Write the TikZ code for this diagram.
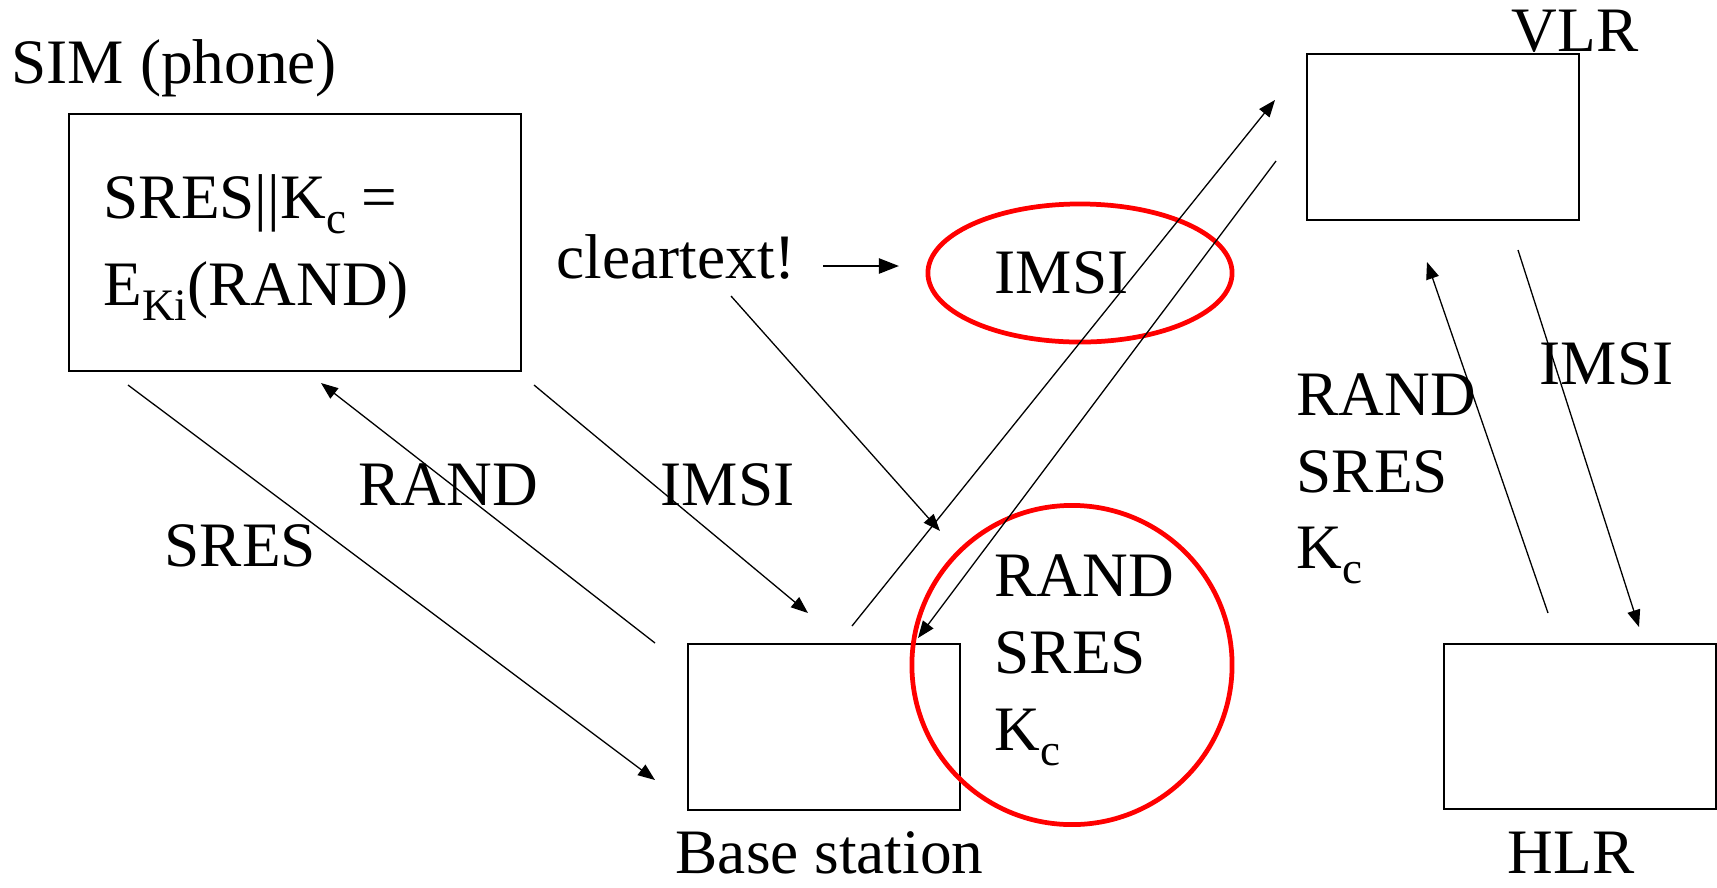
\documentclass[tikz,border=0pt]{standalone}
\usepackage{fontspec}
\setmainfont{Liberation Serif}
\usetikzlibrary{arrows.meta,shapes.geometric}

\newcommand{\subtxt}[1]{\raisebox{-4.3pt}{\fontsize{12.8}{14}\selectfont #1}}

\begin{document}
\begin{tikzpicture}[x=0.01cm,y=-0.01cm,
        box/.style={draw,line width=0.57pt,inner sep=0pt,anchor=north west},
        lbl/.style={inner sep=0pt,anchor=base west,font=\fontsize{18}{21}\selectfont},
        msg/.style={line width=0.37pt,-{Triangle[length=0.17cm,width=0.13cm]}},
        ring/.style={draw=red,line width=1.35pt,ellipse,inner sep=0pt}]
    \useasboundingbox[fill=white] (0,0) rectangle (1717,887);

    % the four boxes
    \node[box,minimum width=4.52cm,minimum height=2.57cm] (sim) at (68,113) {};
    \node[box,minimum width=2.72cm,minimum height=1.66cm] (bs) at (687,643) {};
    \node[box,minimum width=2.72cm,minimum height=1.66cm] (vlr) at (1306,53) {};
    \node[box,minimum width=2.72cm,minimum height=1.65cm] (hlr) at (1443,643) {};

    % red rings
    \node[ring,minimum width=3.04cm,minimum height=1.38cm] (imsiring) at (1080,273) {};
    \node[ring,minimum width=3.2cm,minimum height=3.19cm] (keyring) at (1072,665) {};

    % texts
    \node[lbl] (simlbl) at (11,83) {SIM (phone)};
    \node[lbl] (eqtop) at (103,218) {SRES||K\subtxt{c} =};
    \node[lbl] (eqbot) at (103,305) {E\subtxt{Ki}(RAND)};
    \node[lbl] (clear) at (556,278) {cleartext!};
    \node[lbl] (imsiclear) at (994,293) {IMSI};
    \node[lbl] (vlrlbl) at (1511,51) {VLR};
    \node[lbl] (hlrlbl) at (1507,873) {HLR};
    \node[lbl] (bslbl) at (675,873) {Base station};
    \node[lbl] (sreslbl) at (164,566) {SRES};
    \node[lbl] (randlbl) at (358,505) {RAND};
    \node[lbl] (imsilbl) at (660,505) {IMSI};
    \node[lbl] (imsihlr) at (1539,384) {IMSI};
    \node[lbl] (randbs) at (994,596) {RAND};
    \node[lbl] (sresbs) at (994,673) {SRES};
    \node[lbl] (kcbs) at (994,750) {K\subtxt{c}};
    \node[lbl] (randvlr) at (1296,415) {RAND};
    \node[lbl] (sresvlr) at (1296,492) {SRES};
    \node[lbl] (kcvlr) at (1296,568) {K\subtxt{c}};

    % arrow end points
    \coordinate (sres-a) at (128,385);  \coordinate (sres-b) at (655,780);
    \coordinate (rand-a) at (655,643);  \coordinate (rand-b) at (321,383);
    \coordinate (imsi-a) at (534,385);  \coordinate (imsi-b) at (808,613);
    \coordinate (clr-a) at (731,296);   \coordinate (clr-b) at (940,531);
    \coordinate (up-a) at (852,626);    \coordinate (up-b) at (1275,100);
    \coordinate (down-a) at (1276,161); \coordinate (down-b) at (918,638);
    \coordinate (back-a) at (1548,613); \coordinate (back-b) at (1427,262);
    \coordinate (ask-a) at (1518,250);  \coordinate (ask-b) at (1639,627);
    \coordinate (hint-a) at (823,266);  \coordinate (hint-b) at (899,266);

    \draw[msg] (sres-a) -- (sres-b);
    \draw[msg] (rand-a) -- (rand-b);
    \draw[msg] (imsi-a) -- (imsi-b);
    \draw[msg] (clr-a) -- (clr-b);
    \draw[msg] (up-a) -- (up-b);
    \draw[msg] (down-a) -- (down-b);
    \draw[msg] (back-a) -- (back-b);
    \draw[msg] (ask-a) -- (ask-b);
    \draw[line width=0.65pt,-{Triangle[length=0.2cm,width=0.15cm]}] (hint-a) -- (hint-b);
\end{tikzpicture}
\end{document}
